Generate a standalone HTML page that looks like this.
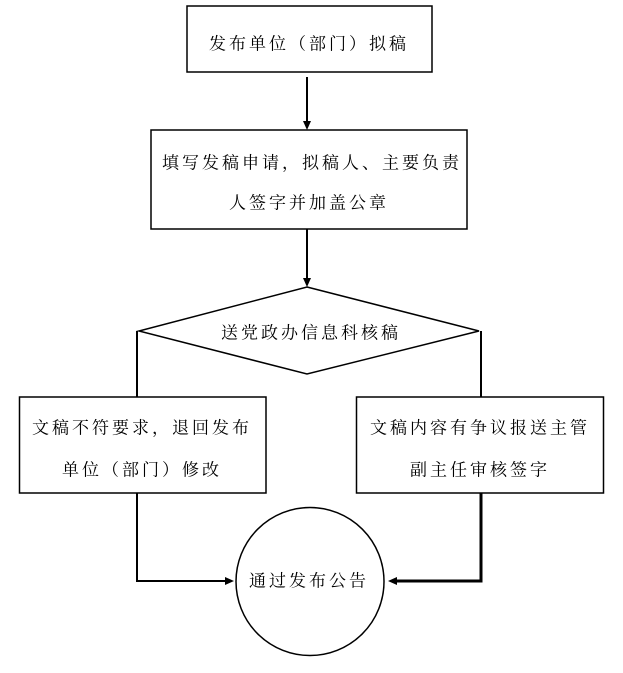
<!DOCTYPE html>
<html>
<head>
<meta charset="utf-8">
<style>
html,body{margin:0;padding:0;background:#fff;}
svg{display:block;}
text{font-family:"Liberation Serif","Noto Serif CJK SC","Noto Sans CJK SC",serif;font-size:17px;letter-spacing:3px;fill:#000;}
</style>
</head>
<body>
<svg width="623" height="673" viewBox="0 0 623 673" xmlns="http://www.w3.org/2000/svg">
<rect x="0" y="0" width="623" height="673" fill="#fff"/>
<g fill="none" stroke="#000" stroke-width="1.5">
  <rect x="187" y="6" width="245" height="66"/>
  <rect x="151" y="130" width="316" height="99"/>
  <polygon points="307,287 479,331 307,374 139,331"/>
  <rect x="19.5" y="397" width="246.5" height="96"/>
  <rect x="356.5" y="397" width="247" height="96"/>
  <circle cx="310" cy="581.5" r="74"/>
</g>
<g stroke="#000" stroke-width="2" fill="none">
  <line x1="307" y1="77" x2="307" y2="123"/>
  <line x1="307" y1="229" x2="307" y2="279"/>
  <line x1="137" y1="331" x2="137" y2="397"/>
  <line x1="481" y1="331" x2="481" y2="397"/>
  <polyline points="137,493 137,581 227,581"/>
</g>
<polyline points="481,493 481,581 396,581" stroke="#000" stroke-width="3" fill="none"/>
<g fill="#000">
  <polygon points="303,121 311,121 307,130"/>
  <polygon points="303,278 311,278 307,287"/>
  <polygon points="225,577 225,585 234,581"/>
  <polygon points="397,577 397,585 388,581"/>
</g>
<text x="209" y="49.5">发布单位（部门）拟稿</text>
<text x="162" y="168.5">填写发稿申请，拟稿人、主要负责</text>
<text x="229" y="208.5">人签字并加盖公章</text>
<text x="221" y="338.5">送党政办信息科核稿</text>
<text x="32" y="433.5">文稿不符要求，退回发布</text>
<text x="62" y="475.5">单位（部门）修改</text>
<text x="370" y="433.5">文稿内容有争议报送主管</text>
<text x="410" y="475.5">副主任审核签字</text>
<text x="249" y="586.5">通过发布公告</text>
</svg>
</body>
</html>
